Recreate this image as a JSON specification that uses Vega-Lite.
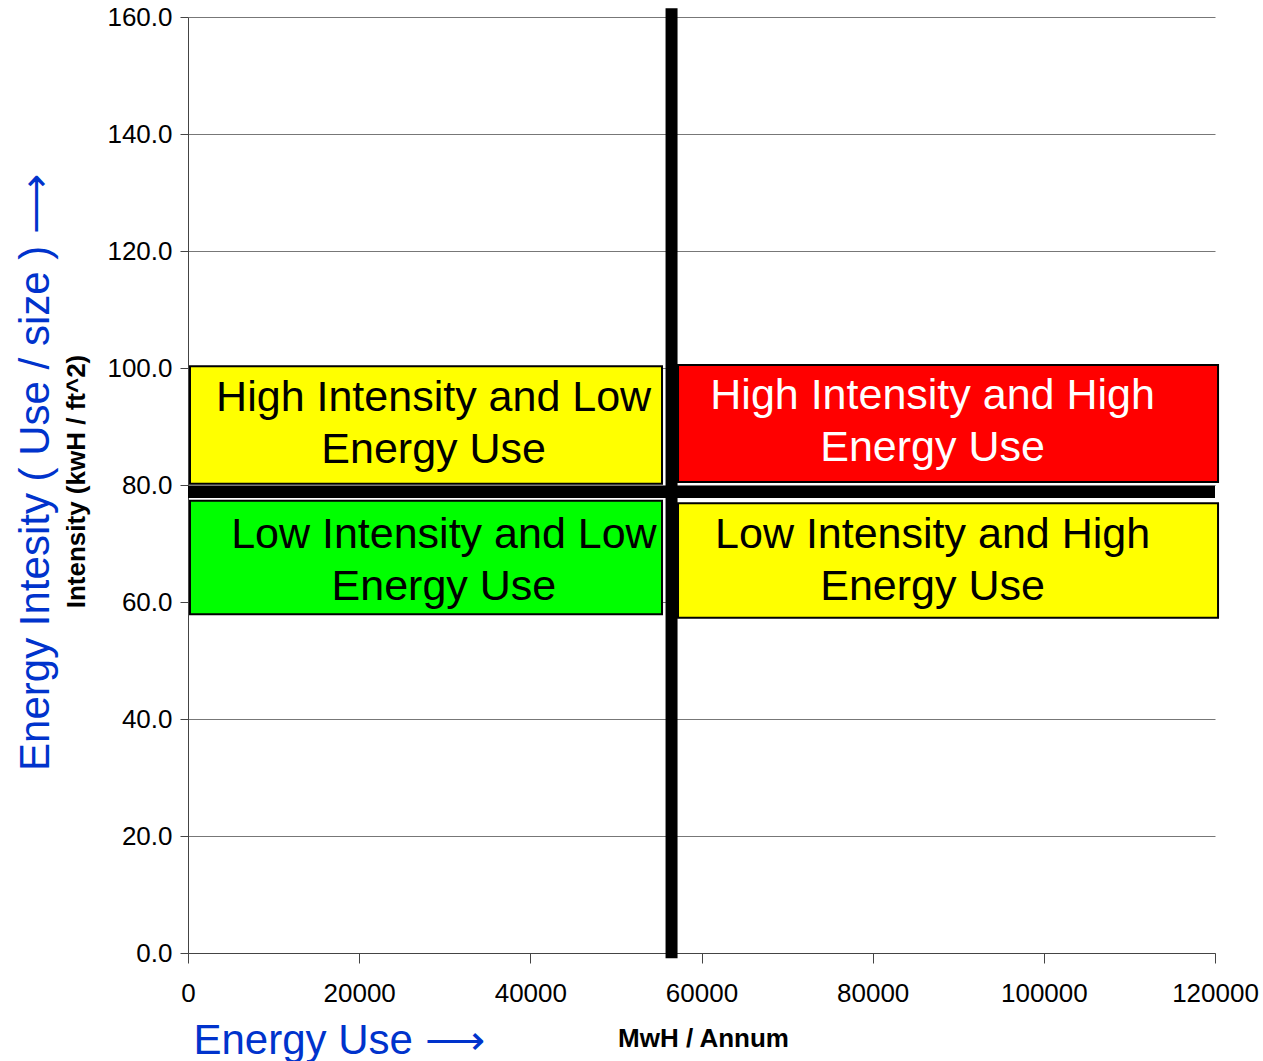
{
  "$schema": "https://vega.github.io/schema/vega-lite/v6.json",
  "width": 1027,
  "height": 936,
  "autosize": {"type": "none"},
  "padding": {"left": 188, "top": 17, "right": 48, "bottom": 108},
  "background": "white",
  "config": {"font": "Liberation Sans", "view": {"stroke": null}},
  "datasets": {
    "boxes": [
      {"quadrant": "High Intensity and Low Energy Use", "x0": 234, "x1": 55387, "y0": 80.2, "y1": 100.3, "tx": 28700, "ty": 94.9, "label": "High Intensity and Low\nEnergy Use"},
      {"quadrant": "High Intensity and High Energy Use", "x0": 57257, "x1": 120356, "y0": 80.5, "y1": 100.5, "tx": 87000, "ty": 95.2, "label": "High Intensity and High\nEnergy Use"},
      {"quadrant": "Low Intensity and Low Energy Use", "x0": 234, "x1": 55387, "y0": 57.9, "y1": 77.3, "tx": 29900, "ty": 71.5, "label": "Low Intensity and Low\nEnergy Use"},
      {"quadrant": "Low Intensity and High Energy Use", "x0": 57257, "x1": 120356, "y0": 57.3, "y1": 76.9, "tx": 87000, "ty": 71.5, "label": "Low Intensity and High\nEnergy Use"}
    ],
    "hline": [{"x0": 0, "x1": 120000, "y0": 78.8}],
    "vline": [{"x0": 56500, "y0": -0.9, "y1": 161.5}]
  },
  "layer": [
    {
      "layer": [
        {
          "data": {"name": "boxes"},
          "mark": {"type": "rect", "stroke": "black", "strokeWidth": 2},
          "encoding": {
            "x": {"field": "x0", "type": "quantitative", "scale": {"domain": [0, 120000], "nice": false},
              "axis": {"title": "MwH / Annum", "titleFontSize": 26, "titleFontWeight": "bold", "titleColor": "black", "titleX": 515, "titleY": 85, "titleAlign": "center", "titleBaseline": "middle",
                "values": [0, 20000, 40000, 60000, 80000, 100000, 120000], "format": "d", "labelFontSize": 26, "labelColor": "black", "labelFlush": false, "labelOverlap": false, "labelPadding": 17,
                "tickSize": 10, "tickColor": "#444", "domainColor": "#444", "grid": false}},
            "x2": {"field": "x1"},
            "y": {"field": "y0", "type": "quantitative", "scale": {"domain": [0, 160], "nice": false},
              "axis": {"title": "Intensity (kwH / ft^2)", "titleFontSize": 26, "titleFontWeight": "bold", "titleColor": "black", "titleX": -112, "titleY": 464, "titleAngle": -90, "titleAlign": "center", "titleBaseline": "middle",
                "values": [0, 20, 40, 60, 80, 100, 120, 140, 160], "format": ".1f", "labelFontSize": 26, "labelColor": "black", "labelFlush": false, "labelOverlap": false, "labelPadding": 8,
                "tickSize": 8, "tickColor": "#444", "domainColor": "#444", "grid": true, "gridColor": "#777", "gridWidth": 1}},
            "y2": {"field": "y1"},
            "fill": {"field": "quadrant", "type": "nominal", "legend": null,
              "scale": {"domain": ["High Intensity and Low Energy Use", "High Intensity and High Energy Use", "Low Intensity and Low Energy Use", "Low Intensity and High Energy Use"], "range": ["#FFFF00", "#FF0000", "#00FF00", "#FFFF00"]}}
          }
        },
        {
          "data": {"name": "hline"},
          "mark": {"type": "rule", "color": "black", "strokeWidth": 12, "strokeCap": "butt"},
          "encoding": {
            "x": {"field": "x0", "type": "quantitative"},
            "x2": {"field": "x1"},
            "y": {"field": "y0", "type": "quantitative"}
          }
        },
        {
          "data": {"name": "vline"},
          "mark": {"type": "rule", "color": "black", "strokeWidth": 12, "strokeCap": "butt"},
          "encoding": {
            "x": {"field": "x0", "type": "quantitative"},
            "y": {"field": "y0", "type": "quantitative"},
            "y2": {"field": "y1"}
          }
        },
        {
          "data": {"name": "boxes"},
          "mark": {"type": "text", "fontSize": 43, "lineBreak": "\n", "lineHeight": 52, "align": "center", "baseline": "middle", "font": "Liberation Sans"},
          "encoding": {
            "x": {"field": "tx", "type": "quantitative"},
            "y": {"field": "ty", "type": "quantitative"},
            "text": {"field": "label"},
            "color": {"field": "quadrant", "type": "nominal", "legend": null,
              "scale": {"domain": ["High Intensity and Low Energy Use", "High Intensity and High Energy Use", "Low Intensity and Low Energy Use", "Low Intensity and High Energy Use"], "range": ["#000000", "#FFFFFF", "#000000", "#000000"]}}
          }
        }
      ]
    },
    {
      "data": {"name": "boxes"},
      "mark": {"type": "point", "opacity": 0},
      "encoding": {
        "x": {"field": "x0", "type": "quantitative", "scale": {"domain": [0, 120000], "nice": false},
          "axis": {"orient": "bottom", "title": "Energy Use ⟶", "titleFontSize": 42, "titleFontWeight": "normal", "titleColor": "#0033CC", "titleX": 5, "titleY": 87, "titleAngle": 0, "titleAlign": "left", "titleBaseline": "middle",
            "labels": false, "ticks": false, "domain": false, "grid": false}},
        "y": {"field": "y0", "type": "quantitative", "scale": {"domain": [0, 160], "nice": false},
          "axis": {"orient": "left", "title": "Energy Intesity ( Use / size ) ⟶", "titleFontSize": 42, "titleFontWeight": "normal", "titleColor": "#0033CC", "titleX": -153, "titleY": 455, "titleAngle": -90, "titleAlign": "center", "titleBaseline": "middle",
            "labels": false, "ticks": false, "domain": false, "grid": false}}
      }
    }
  ],
  "resolve": {"scale": {"x": "independent", "y": "independent", "color": "independent"}}
}
